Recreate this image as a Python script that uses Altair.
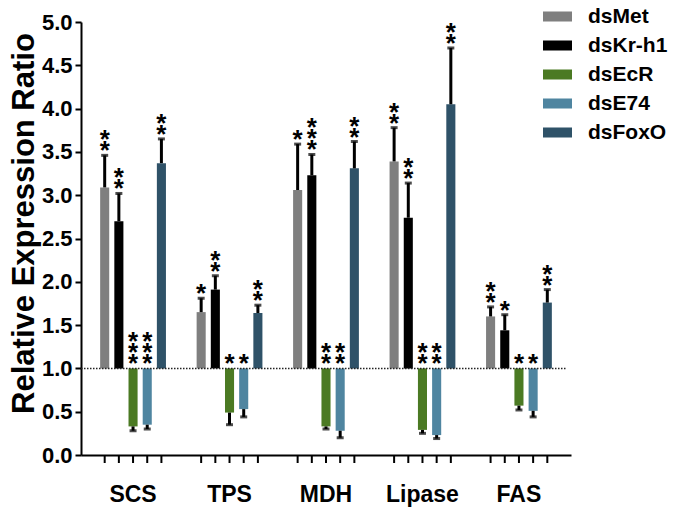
import altair as alt
import pandas as pd

genes = ["SCS", "TPS", "MDH", "Lipase", "FAS"]
treatments = ["dsMet", "dsKr-h1", "dsEcR", "dsE74", "dsFoxO"]
colors = ["#7f7f7f", "#000000", "#4b7a23", "#4f85a0", "#2f5268"]

dsMet = [3.09, 1.65, 3.06, 3.39, 1.60]
dsMet_err = [3.46, 1.81, 3.59, 3.78, 1.71]
dsKr = [2.70, 1.91, 3.23, 2.74, 1.44]
dsKr_err = [3.02, 2.07, 3.47, 3.14, 1.62]
dsEcR = [0.33, 0.49, 0.33, 0.29, 0.57]
dsEcR_err = [0.28, 0.35, 0.30, 0.25, 0.52]
dsE74 = [0.35, 0.53, 0.28, 0.23, 0.51]
dsE74_err = [0.30, 0.44, 0.20, 0.19, 0.44]
dsFoxO = [3.37, 1.64, 3.31, 4.05, 1.76]
dsFoxO_err = [3.65, 1.73, 3.62, 4.70, 1.91]

stars_Met = ["**", "*", "*", "**", "**"]
stars_Kr = ["**", "**", "***", "**", "*"]
stars_EcR = ["***", "*", "**", "**", "*"]
stars_E74 = ["***", "*", "**", "**", "*"]
stars_FoxO = ["**", "**", "**", "**", "**"]

y_ticks = [0, 0.5, 1, 1.5, 2, 2.5, 3, 3.5, 4, 4.5, 5]
baseline_value = 1.0

series = [
    ("dsMet", dsMet, dsMet_err, stars_Met),
    ("dsKr-h1", dsKr, dsKr_err, stars_Kr),
    ("dsEcR", dsEcR, dsEcR_err, stars_EcR),
    ("dsE74", dsE74, dsE74_err, stars_E74),
    ("dsFoxO", dsFoxO, dsFoxO_err, stars_FoxO),
]

rows = []
for name, vals, errs, stars in series:
    for g, v, e, s in zip(genes, vals, errs, stars):
        rows.append({
            "gene": g, "treatment": name, "value": v, "err": e,
            "base": baseline_value,
            "star": "\n".join(list(s)),
            "nstar": len(s),
            "star_y": e if v > baseline_value else baseline_value,
        })
df = pd.DataFrame(rows)

W, H = 490, 433
FONT = "Liberation Sans"
LINE_H = 11

x_scale = alt.Scale(paddingInner=0.171, paddingOuter=0.125)
x_enc = alt.X("gene:N", sort=genes, scale=x_scale,
              axis=alt.Axis(title=None, labelAngle=0, labelFontSize=23,
                            labelFontWeight="bold", labelColor="black",
                            labelFont=FONT, ticks=False, domainWidth=2,
                            domainColor="black", labelPadding=28))
xo_enc = alt.XOffset("treatment:N", sort=treatments,
                     scale=alt.Scale(paddingInner=0.36, paddingOuter=0.5))
y_scale = alt.Scale(domain=[0, 5], nice=False)

base = alt.Chart(df)

bars = base.mark_bar().encode(
    x=x_enc,
    xOffset=xo_enc,
    y=alt.Y("value:Q", scale=y_scale,
            axis=alt.Axis(values=y_ticks, format=".1f", grid=False,
                          labelFontSize=22, labelFontWeight="bold",
                          labelColor="black", labelFont=FONT,
                          tickSize=6, tickWidth=2, tickColor="black",
                          domainWidth=2, domainColor="black", labelPadding=3,
                          title="Relative Expression Ratio", titleFontSize=31,
                          titleFontWeight="bold", titleFont=FONT,
                          titleColor="black", titleAngle=270,
                          titleBaseline="alphabetic", titleX=-48, titleY=201)),
    y2="base:Q",
    color=alt.Color("treatment:N", sort=treatments,
                    scale=alt.Scale(domain=treatments, range=colors),
                    legend=alt.Legend(
                        title=None, orient="none", legendX=462, legendY=-20,
                        symbolType="M-1,-0.345H1V0.345H-1Z", symbolSize=841,
                        symbolStrokeWidth=0, symbolOpacity=1,
                        labelFontSize=21, labelFontWeight="bold",
                        labelFont=FONT, labelColor="black",
                        labelOffset=16, rowPadding=4, padding=0)),
)

err_rule = base.mark_rule(color="black", strokeWidth=3).encode(
    x=alt.X("gene:N", sort=genes, scale=x_scale), xOffset=xo_enc,
    y=alt.Y("value:Q", scale=y_scale), y2="err:Q",
)

caps = base.mark_tick(color="black", thickness=3, size=7).encode(
    x=alt.X("gene:N", sort=genes, scale=x_scale), xOffset=xo_enc,
    y=alt.Y("err:Q", scale=y_scale),
)

star_layers = []
for n in (1, 2, 3):
    star_layers.append(
        base.transform_filter(alt.datum.nstar == n).mark_text(
            lineBreak="\n", lineHeight=LINE_H, fontSize=26, fontWeight="bold",
            font=FONT, baseline="bottom", align="center",
            dy=9 - (n - 1) * LINE_H, color="black",
        ).encode(
            x=alt.X("gene:N", sort=genes, scale=x_scale), xOffset=xo_enc,
            y=alt.Y("star_y:Q", scale=y_scale),
            text="star:N",
        )
    )

xticks = base.mark_rule(color="black", strokeWidth=2).encode(
    x=alt.X("gene:N", sort=genes, scale=x_scale), xOffset=xo_enc,
    y=alt.value(H), y2=alt.value(H + 8),
)

dotted = alt.Chart(pd.DataFrame({"b": [baseline_value]})).mark_rule(
    color="#222222", strokeWidth=1.5, strokeDash=[1.5, 1.5]
).encode(
    y=alt.Y("b:Q", scale=y_scale), x=alt.value(0), x2=alt.value(486),
)

chart = alt.layer(bars, dotted, err_rule, caps, *star_layers, xticks).properties(
    width=W, height=H,
    autosize=alt.AutoSizeParams(type="none"),
    padding={"left": 73, "top": 14, "right": 98, "bottom": 54},
).configure_view(stroke=None).configure_axis(labelFont=FONT)

chart.save("out.html", embed_options={"renderer": "svg", "actions": False})
